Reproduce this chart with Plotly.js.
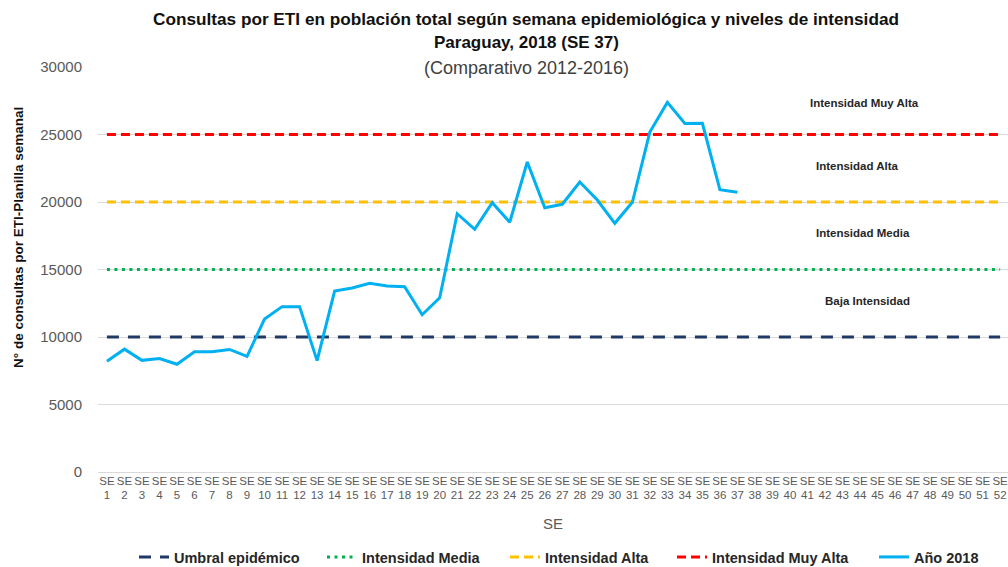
<!DOCTYPE html>
<html>
<head>
<meta charset="utf-8">
<script src="https://cdn.plot.ly/plotly-3.0.1.min.js"></script>
<style>html,body{margin:0;padding:0;background:#fff;}#chart{width:1008px;height:567px;}</style>
</head>
<body>
<div id="chart"></div>
<script>
const weeks = ["SE 1","SE 2","SE 3","SE 4","SE 5","SE 6","SE 7","SE 8","SE 9","SE 10",
  "SE 11","SE 12","SE 13","SE 14","SE 15","SE 16","SE 17","SE 18","SE 19","SE 20",
  "SE 21","SE 22","SE 23","SE 24","SE 25","SE 26","SE 27","SE 28","SE 29","SE 30",
  "SE 31","SE 32","SE 33","SE 34","SE 35","SE 36","SE 37","SE 38","SE 39","SE 40",
  "SE 41","SE 42","SE 43","SE 44","SE 45","SE 46","SE 47","SE 48","SE 49","SE 50",
  "SE 51","SE 52"];
const tickLabels = ["SE<br>1","SE<br>2","SE<br>3","SE<br>4","SE<br>5","SE<br>6","SE<br>7","SE<br>8","SE<br>9","SE<br>10",
  "SE<br>11","SE<br>12","SE<br>13","SE<br>14","SE<br>15","SE<br>16","SE<br>17","SE<br>18","SE<br>19","SE<br>20",
  "SE<br>21","SE<br>22","SE<br>23","SE<br>24","SE<br>25","SE<br>26","SE<br>27","SE<br>28","SE<br>29","SE<br>30",
  "SE<br>31","SE<br>32","SE<br>33","SE<br>34","SE<br>35","SE<br>36","SE<br>37","SE<br>38","SE<br>39","SE<br>40",
  "SE<br>41","SE<br>42","SE<br>43","SE<br>44","SE<br>45","SE<br>46","SE<br>47","SE<br>48","SE<br>49","SE<br>50",
  "SE<br>51","SE<br>52"];
const weeks2018 = weeks.slice(0, 37);
const values2018 = [8200, 9100, 8270, 8400, 7980, 8900, 8900, 9080, 8570, 11330,
  12250, 12250, 8250, 13400, 13630, 13980, 13780, 13730, 11650, 12900,
  19130, 17980, 19950, 18500, 22960, 19580, 19830, 21480, 20150, 18420,
  19980, 25180, 27380, 25820, 25830, 20910, 20720];
const umbralEpidemico = 10000;
const intensidadMedia = 15000;
const intensidadAlta = 20000;
const intensidadMuyAlta = 25000;
const seriesNames = ["Umbral epidémico", "Intensidad Media", "Intensidad Alta", "Intensidad Muy Alta", "Año 2018"];
const zoneLabels = ["Intensidad Muy Alta", "Intensidad Alta", "Intensidad Media", "Baja Intensidad"];
const zoneLabelY = [27300, 22700, 17700, 12700];
const titleLines = ["Consultas por ETI en población total según semana epidemiológica y niveles de intensidad",
  "Paraguay, 2018 (SE 37)", "(Comparativo 2012-2016)"];
const yTitle = "N° de consultas por ETI-Planilla semanal";

const FONT = "'Liberation Sans', Arial, sans-serif";
const span = [weeks[0], weeks[weeks.length - 1]];

const traces = [
  {x: span, y: [umbralEpidemico, umbralEpidemico], name: seriesNames[0], mode: 'lines', legend: 'legend',
   line: {color: '#1f3864', width: 3, dash: '12px,9px'}},
  {x: span, y: [intensidadMedia, intensidadMedia], name: seriesNames[1], mode: 'lines', legend: 'legend2',
   line: {color: '#00b050', width: 3, dash: '3px,4.5px'}},
  {x: span, y: [intensidadAlta, intensidadAlta], name: seriesNames[2], mode: 'lines', legend: 'legend3',
   line: {color: '#ffc000', width: 3, dash: '9px,5px'}},
  {x: span, y: [intensidadMuyAlta, intensidadMuyAlta], name: seriesNames[3], mode: 'lines', legend: 'legend4',
   line: {color: '#ff0000', width: 3, dash: '9px,5px'}},
  {x: weeks2018, y: values2018, name: seriesNames[4], mode: 'lines', legend: 'legend5',
   line: {color: '#00b0f0', width: 3}}
];

const PLOT_L = 98, PLOT_W = 910, PLOT_T = 67, PLOT_H = 405;
const px2x = px => (px - PLOT_L) / PLOT_W;
const py2y = py => (PLOT_T + PLOT_H - py) / PLOT_H;

const zoneX = [864, 857, 863, 867];
const annotations = zoneLabels.map((t, i) => ({
  text: '<b>' + t + '</b>', xref: 'paper', x: px2x(zoneX[i]), xanchor: 'center',
  yref: 'y', y: zoneLabelY[i], yanchor: 'middle',
  showarrow: false, font: {family: FONT, size: 11.5, color: '#262626'}
}));
annotations.push({
  text: '<b>' + titleLines[1] + '</b>', xref: 'paper', x: px2x(526), xanchor: 'center',
  yref: 'paper', y: py2y(43), yanchor: 'middle', showarrow: false,
  font: {family: FONT, size: 17, color: '#111111'}
});
annotations.push({
  text: titleLines[2], xref: 'paper', x: px2x(526), xanchor: 'center', yref: 'paper', y: py2y(68),
  yanchor: 'middle', showarrow: false, bgcolor: '#ffffff', borderpad: 0,
  font: {family: FONT, size: 18, color: '#404040'}
});
annotations.push({
  text: '<b>' + yTitle + '</b>', textangle: -90, xref: 'paper', x: px2x(18), xanchor: 'center',
  yref: 'paper', y: py2y(238), yanchor: 'middle', showarrow: false,
  font: {family: FONT, size: 13.5, color: '#111111'}
});

const legendX = [134, 322, 505, 672, 874];
const legendBase = i => ({
  orientation: 'h', x: px2x(legendX[i]), xanchor: 'left',
  yref: 'container', y: 1 - 557 / 567, yanchor: 'middle',
  font: {family: FONT, size: 14.5, color: '#262626', weight: 'bold'},
  bgcolor: 'rgba(0,0,0,0)'
});

const layout = {
  width: 1008, height: 567,
  margin: {l: PLOT_L, r: 0, t: PLOT_T, b: 95},
  paper_bgcolor: '#ffffff', plot_bgcolor: '#ffffff',
  font: {family: FONT, color: '#595959'},
  title: {
    text: '<b>' + titleLines[0] + '</b>',
    font: {family: FONT, size: 17.2, color: '#111111'},
    x: 526 / 1008, xanchor: 'center', xref: 'container',
    y: 1 - 19 / 567, yanchor: 'middle', yref: 'container'
  },
  xaxis: {
    type: 'category', categoryorder: 'array', categoryarray: weeks,
    range: [-0.51, 51.45], automargin: false,
    tickvals: weeks, ticktext: tickLabels, tickangle: 0,
    tickfont: {family: FONT, size: 11.5, color: '#595959'},
    showgrid: false, zeroline: false, showline: false, ticks: '',
    title: {text: 'SE', font: {family: FONT, size: 15, color: '#595959'}, standoff: 18}
  },
  yaxis: {
    range: [0, 30000], dtick: 5000, tickformat: 'd', automargin: false,
    gridcolor: '#d9d9d9', gridwidth: 1,
    zeroline: true, zerolinecolor: '#d9d9d9', zerolinewidth: 1,
    showline: false, ticks: '', ticklabelstandoff: 15,
    tickfont: {family: FONT, size: 15, color: '#595959'}
  },
  showlegend: true,
  legend: legendBase(0),
  legend2: legendBase(1),
  legend3: legendBase(2),
  legend4: legendBase(3),
  legend5: legendBase(4),
  annotations: annotations
};

Plotly.newPlot('chart', traces, layout, {displayModeBar: false, staticPlot: true});
</script>
</body>
</html>
